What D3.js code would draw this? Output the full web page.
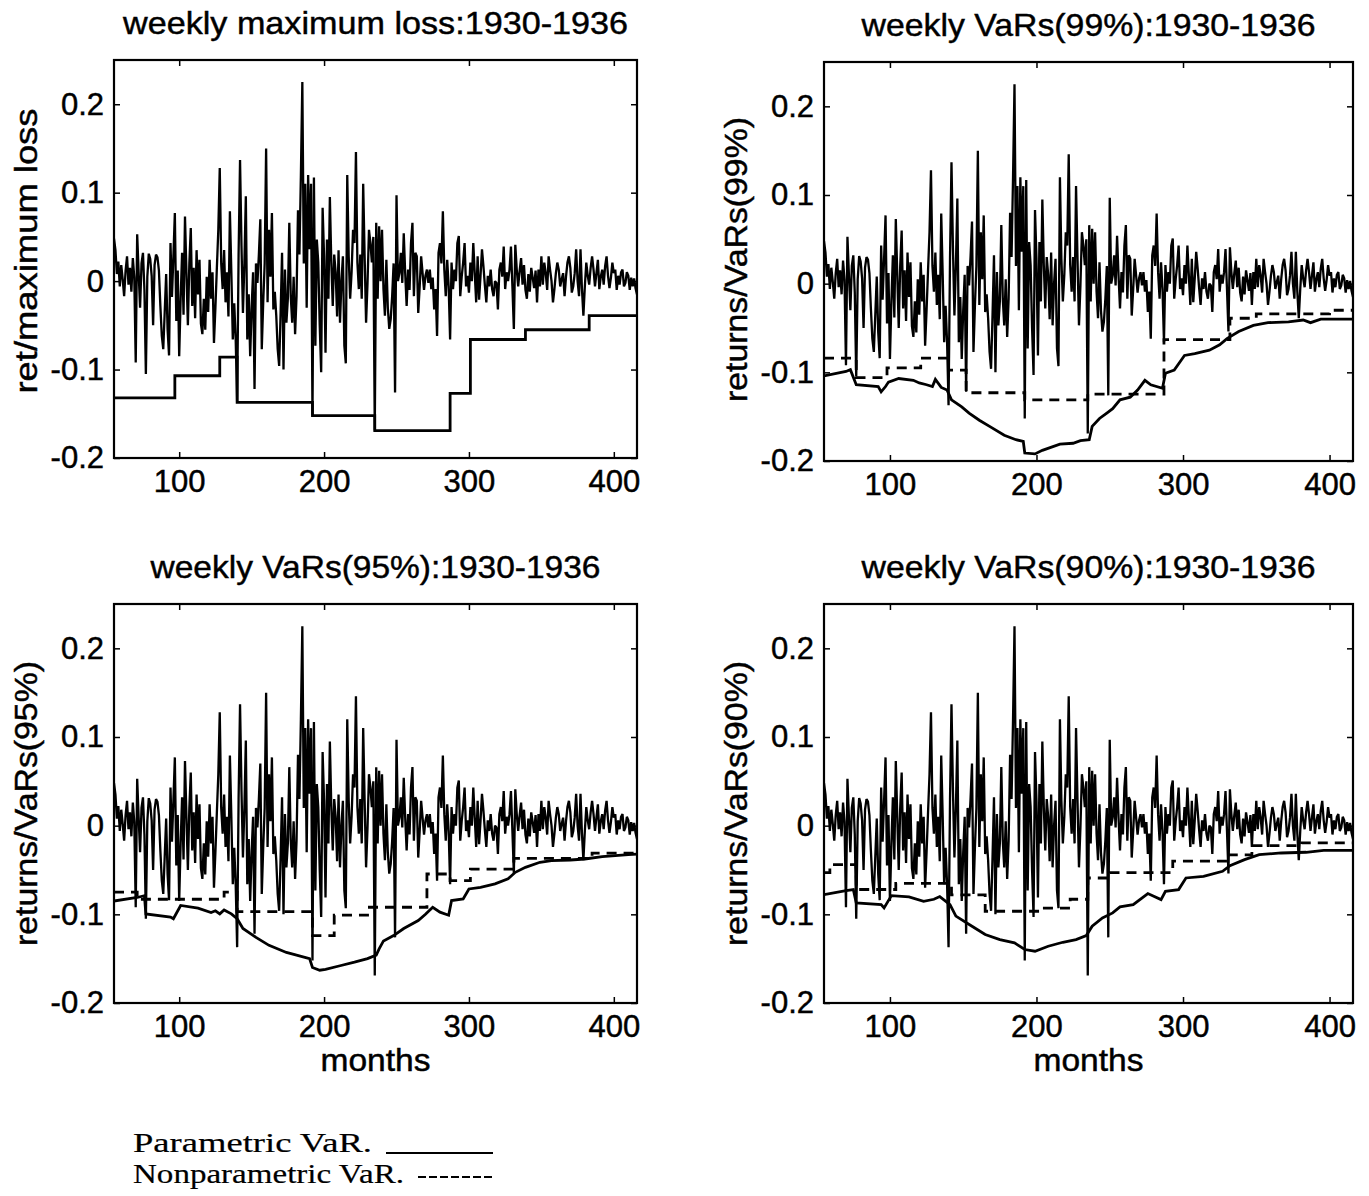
<!DOCTYPE html>
<html><head><meta charset="utf-8">
<script src="https://cdn.jsdelivr.net/npm/d3@7"></script>
<style>
body{margin:0;background:#fff}
svg{display:block}
text{font-family:"Liberation Sans",Arial,Helvetica,sans-serif;fill:#000;stroke:#000;stroke-width:0.45px}
.legend text{font-family:"Liberation Serif","Times New Roman",serif;stroke-width:0.2px}
</style>
</head><body>
<svg id="chart" width="1369" height="1196"></svg>
<script>
// ---------- data ----------
const weekStart = 55;
const weekEnd = 416;
const returns = [
0.048,0.035,0.008,0.022,-0.006,0.018,0.002,-0.017,0.012,0.028,
-0.004,0.015,-0.012,0.026,0.004,-0.092,0.053,0.01,-0.03,0.02,
0.032,-0.01,-0.105,0.005,0.031,0.025,0.006,-0.05,0.018,0.03,
0.027,0.012,-0.028,-0.062,-0.077,-0.035,0.008,-0.055,-0.084,0.043,
-0.018,0.028,0.077,-0.045,0.012,-0.085,-0.02,0.032,-0.038,0.073,
0.01,-0.05,0.02,0.06,-0.028,0.015,-0.042,0.035,-0.015,0.024,
-0.048,-0.06,-0.02,-0.055,0.005,-0.035,0.024,-0.02,0.01,-0.07,
-0.03,0.015,0.058,0.128,0.02,-0.009,0.035,-0.024,0.01,-0.04,
0.079,0.01,-0.066,-0.025,-0.066,-0.137,0.03,0.137,0.04,-0.036,
0.02,0.096,-0.066,-0.015,-0.085,-0.03,0.01,-0.122,0.02,-0.002,
0.03,0.07,-0.077,-0.024,0.02,0.15,-0.024,0.058,0.005,0.077,
-0.032,-0.012,-0.039,-0.077,-0.096,-0.036,0.032,-0.1,0.013,-0.047,
-0.02,0.066,-0.017,-0.047,0.005,-0.06,-0.017,0.08,0.03,0.12,
0.225,0.02,0.11,-0.03,0.12,0.036,0.11,-0.152,0.117,-0.073,
0.047,0.021,-0.05,-0.103,0.083,0.028,-0.081,0.047,-0.02,0.095,
0.021,-0.028,0.03,0.01,-0.04,0.035,-0.047,0.0,0.028,-0.073,
-0.093,0.12,0.028,-0.02,0.01,0.058,0.043,0.146,0.021,-0.009,
0.03,-0.02,0.11,0.028,-0.047,-0.002,0.058,0.043,0.021,0.05,
-0.169,0.066,-0.02,0.062,0.0,0.058,-0.009,-0.039,0.024,-0.03,
-0.054,-0.043,-0.017,0.02,-0.126,0.097,0.0,0.009,0.032,-0.002,
0.054,0.009,-0.028,0.013,-0.01,0.043,0.066,-0.017,0.032,0.028,
-0.036,-0.006,0.028,0.009,-0.01,0.006,0.013,-0.002,0.013,-0.009,
0.004,-0.032,-0.009,-0.062,0.032,0.043,0.02,0.079,0.013,-0.017,
0.024,-0.006,-0.066,0.021,-0.009,0.013,0.0,0.043,0.051,-0.017,
0.005,0.021,0.043,-0.006,0.006,-0.013,0.021,0.0,0.043,0.009,
-0.024,0.028,-0.021,0.006,0.036,0.017,-0.005,-0.024,0.006,-0.006,
0.013,-0.009,-0.017,0.0,-0.002,-0.032,0.013,0.021,0.005,0.039,
-0.009,0.01,0.0,0.013,0.039,-0.006,-0.054,0.041,0.013,-0.006,
0.012,0.026,-0.004,0.018,-0.01,-0.02,0.008,-0.012,0.015,0.004,
-0.008,0.012,-0.024,0.013,-0.006,0.028,-0.004,0.021,0.009,-0.01,
0.028,0.013,0.0,-0.024,-0.009,0.009,0.021,0.013,-0.006,0.002,
0.009,-0.017,0.005,0.021,0.028,0.015,-0.013,-0.006,0.009,0.036,
0.0,-0.017,0.036,-0.009,-0.039,-0.006,0.021,0.006,-0.004,0.015,
0.028,0.013,-0.006,0.009,0.024,-0.009,0.005,0.013,-0.004,0.017,
0.028,0.006,-0.008,0.004,0.021,0.009,0.013,-0.01,0.006,-0.004,
0.01,0.013,-0.006,-0.002,0.01,0.006,-0.01,0.004,-0.006,0.003,
-0.008,-0.015
];

// weekly maximum loss (step function: value holds from x until next x)
const maxLossX = [55,97,128,140,192,235,287,301,339,383,416];
const maxLossY = [-0.132,-0.107,-0.086,-0.137,-0.152,-0.169,-0.127,-0.066,-0.055,-0.039,-0.039];

// 99% VaR
const par99X = [55,70,73,77,92,94,97,99,106,116,120,125,129,131,135,139,142,149,154,161,168,178,186,191,192,199,204,216,225,230,236,238,243,248,252,257,264,269,274,278,286,288,294,298,301,308,318,325,330,338,348,358,372,382,387,394,416];
const par99Y = [-0.104,-0.099,-0.097,-0.114,-0.116,-0.122,-0.116,-0.111,-0.107,-0.109,-0.112,-0.114,-0.116,-0.108,-0.117,-0.12,-0.131,-0.139,-0.146,-0.154,-0.161,-0.171,-0.176,-0.178,-0.191,-0.192,-0.188,-0.181,-0.18,-0.177,-0.176,-0.161,-0.152,-0.146,-0.141,-0.131,-0.128,-0.12,-0.109,-0.114,-0.118,-0.101,-0.0975,-0.088,-0.081,-0.079,-0.075,-0.069,-0.062,-0.054,-0.047,-0.044,-0.043,-0.041,-0.044,-0.04,-0.04];
const np99X = [55,77,98,121,140,152,192,235,287,332,350,400,416];
const np99Y = [-0.084,-0.106,-0.095,-0.084,-0.0975,-0.123,-0.131,-0.1245,-0.063,-0.039,-0.034,-0.030,-0.030];

// 95% VaR
const par95X = [55,71,76,77,94,96,101,113,122,125,128,131,136,140,144,153,162,174,190,192,197,201,211,221,230,236,238,241,248,255,265,270,275,280,286,288,296,300,308,318,327,332,339,349,357,370,380,392,410,416];
const par95Y = [-0.085,-0.081,-0.079,-0.0995,-0.103,-0.105,-0.09,-0.093,-0.098,-0.096,-0.0995,-0.095,-0.0995,-0.105,-0.116,-0.126,-0.135,-0.143,-0.15,-0.16,-0.163,-0.162,-0.158,-0.154,-0.15,-0.146,-0.139,-0.13,-0.124,-0.116,-0.107,-0.1,-0.092,-0.0975,-0.101,-0.0845,-0.0826,-0.0714,-0.0695,-0.0657,-0.06,-0.0526,-0.047,-0.0413,-0.0395,-0.0387,-0.0376,-0.035,-0.0327,-0.032];
const np95X = [55,71,131,140,192,207,230,271,287,301,331,385,416];
const np95Y = [-0.075,-0.083,-0.075,-0.097,-0.124,-0.101,-0.092,-0.0545,-0.062,-0.049,-0.037,-0.031,-0.031];

// 90% VaR
const par90X = [55,70,75,77,94,96,101,113,123,130,134,141,145,156,165,175,185,192,199,208,218,227,234,238,245,252,257,266,276,285,288,297,302,314,327,332,342,352,367,384,396,416];
const par90Y = [-0.0777,-0.0732,-0.072,-0.0871,-0.089,-0.0928,-0.0789,-0.0804,-0.0853,-0.083,-0.08,-0.089,-0.102,-0.1134,-0.1228,-0.1285,-0.1322,-0.1397,-0.1416,-0.136,-0.1315,-0.1285,-0.124,-0.1134,-0.104,-0.0984,-0.0916,-0.089,-0.0766,-0.0834,-0.074,-0.0721,-0.059,-0.0571,-0.0515,-0.0451,-0.0383,-0.0327,-0.0308,-0.03,-0.0278,-0.0278];
const np90X = [55,59,77,104,142,165,204,223,235,250,293,331,347,381,416];
const np90Y = [-0.053,-0.044,-0.072,-0.065,-0.078,-0.0965,-0.093,-0.083,-0.059,-0.053,-0.04,-0.033,-0.0225,-0.0195,-0.0195];

const xTickValues = [100,200,300,400];
const yTickValues = [-0.2,-0.1,0,0.1,0.2];
const titles = ["weekly maximum loss:1930-1936","weekly VaRs(99%):1930-1936","weekly VaRs(95%):1930-1936","weekly VaRs(90%):1930-1936"];
const yLabels = ["ret/maximum loss","returns/VaRs(99%)","returns/VaRs(95%)","returns/VaRs(90%)"];
const xLabel = "months";
const legendLabels = ["Parametric VaR.","Nonparametric VaR."];

// ---------- drawing ----------
const svg = d3.select("#chart");
const zip = (xs, ys) => xs.map((v, i) => [v, ys[i]]);
const retPts = returns.map((v, i) => [weekStart + i, v]);

const panels = [
  {box:{l:114,r:637,t:60,b:458}, solid:zip(maxLossX,maxLossY), dashed:null, xlab:false, titleLen:505, ylabLen:285, ylabDy:-8},
  {box:{l:824,r:1353,t:62,b:461}, solid:zip(par99X,par99Y), dashed:zip(np99X,np99Y), xlab:false, titleLen:454, ylabLen:285, ylabDy:-2},
  {box:{l:114,r:637,t:604,b:1003}, solid:zip(par95X,par95Y), dashed:zip(np95X,np95Y), xlab:true, titleLen:450, ylabLen:285, ylabDy:0},
  {box:{l:824,r:1353,t:604,b:1003}, solid:zip(par90X,par90Y), dashed:zip(np90X,np90Y), xlab:true, titleLen:454, ylabLen:285, ylabDy:0}
];

const fmtY = d => d === 0 ? "0" : String(d);

panels.forEach((p, i) => {
  const B = p.box;
  const x = d3.scaleLinear().domain([weekStart, weekEnd]).range([B.l, B.r]);
  const y = d3.scaleLinear().domain([-0.2, 0.25]).range([B.b, B.t]);
  const g = svg.append("g");

  const clipId = "clip" + i;
  svg.append("clipPath").attr("id", clipId).append("rect")
    .attr("x", B.l).attr("y", B.t).attr("width", B.r - B.l).attr("height", B.b - B.t);

  const lineLin = d3.line().x(d => x(d[0])).y(d => y(d[1]));
  const lineStep = d3.line().x(d => x(d[0])).y(d => y(d[1])).curve(d3.curveStepAfter);
  const linesG = g.append("g").attr("clip-path", `url(#${clipId})`);

  // returns
  linesG.append("path").attr("d", lineLin(retPts))
    .attr("fill", "none").attr("stroke", "#000").attr("stroke-width", 2.3)
    .attr("stroke-linejoin", "miter").attr("stroke-miterlimit", 2);

  // solid VaR / max loss
  linesG.append("path").attr("d", i === 0 ? lineStep(p.solid) : lineLin(p.solid))
    .attr("fill", "none").attr("stroke", "#000").attr("stroke-width", 2.8);

  if (p.dashed) {
    linesG.append("path").attr("d", lineStep(p.dashed))
      .attr("fill", "none").attr("stroke", "#000").attr("stroke-width", 2.8)
      .attr("stroke-dasharray", "10,7");
  }

  // axes
  const axB = d3.axisBottom(x).tickValues(xTickValues).tickSizeInner(-6).tickSizeOuter(0).tickPadding(12);
  const axT = d3.axisTop(x).tickValues(xTickValues).tickSizeInner(-6).tickSizeOuter(0).tickFormat("");
  const axL = d3.axisLeft(y).tickValues(yTickValues).tickSizeInner(-6).tickSizeOuter(0).tickPadding(10).tickFormat(fmtY);
  const axR = d3.axisRight(y).tickValues(yTickValues).tickSizeInner(-6).tickSizeOuter(0).tickFormat("");

  const gB = g.append("g").attr("transform", `translate(0,${B.b})`).call(axB);
  const gT = g.append("g").attr("transform", `translate(0,${B.t})`).call(axT);
  const gL = g.append("g").attr("transform", `translate(${B.l},0)`).call(axL);
  const gR = g.append("g").attr("transform", `translate(${B.r},0)`).call(axR);
  [gB, gT, gL, gR].forEach(a => {
    a.select(".domain").remove();
    a.selectAll(".tick line").attr("stroke", "#000").attr("stroke-width", 1.5);
    a.selectAll("text").style("font-size", "31px").style("font-family", '"Liberation Sans",Arial,sans-serif')
      .attr("fill", "#000").attr("stroke", "#000").attr("stroke-width", 0.45);
  });

  // frame
  g.append("rect").attr("x", B.l).attr("y", B.t).attr("width", B.r - B.l).attr("height", B.b - B.t)
    .attr("fill", "none").attr("stroke", "#000").attr("stroke-width", 2.2);

  // title
  g.append("text").attr("x", (B.l + B.r) / 2).attr("y", B.t - 26)
    .attr("text-anchor", "middle").style("font-size", "32px")
    .attr("textLength", p.titleLen).attr("lengthAdjust", "spacingAndGlyphs").text(titles[i]);

  // y label
  const cy = (B.t + B.b) / 2 + p.ylabDy;
  const lx = B.l - 77;
  g.append("text").attr("transform", `translate(${lx},${cy}) rotate(-90)`)
    .attr("text-anchor", "middle").style("font-size", "32px")
    .attr("textLength", p.ylabLen).attr("lengthAdjust", "spacingAndGlyphs").text(yLabels[i]);

  if (p.xlab) {
    g.append("text").attr("x", (B.l + B.r) / 2).attr("y", B.b + 68)
      .attr("text-anchor", "middle").style("font-size", "31px")
      .attr("textLength", 110).attr("lengthAdjust", "spacingAndGlyphs").text(xLabel);
  }
});

// legend
const lg = svg.append("g").attr("class", "legend");
lg.append("text").attr("x", 133).attr("y", 1152).style("font-size", "28px")
  .attr("textLength", 239).attr("lengthAdjust", "spacingAndGlyphs").text(legendLabels[0]);
lg.append("line").attr("x1", 386).attr("x2", 493).attr("y1", 1153).attr("y2", 1153)
  .attr("stroke", "#000").attr("stroke-width", 2);
lg.append("text").attr("x", 133).attr("y", 1183).style("font-size", "28px")
  .attr("textLength", 271).attr("lengthAdjust", "spacingAndGlyphs").text(legendLabels[1]);
lg.append("line").attr("x1", 418).attr("x2", 492).attr("y1", 1177).attr("y2", 1177)
  .attr("stroke", "#000").attr("stroke-width", 2).attr("stroke-dasharray", "8,3");
</script>
</body></html>
